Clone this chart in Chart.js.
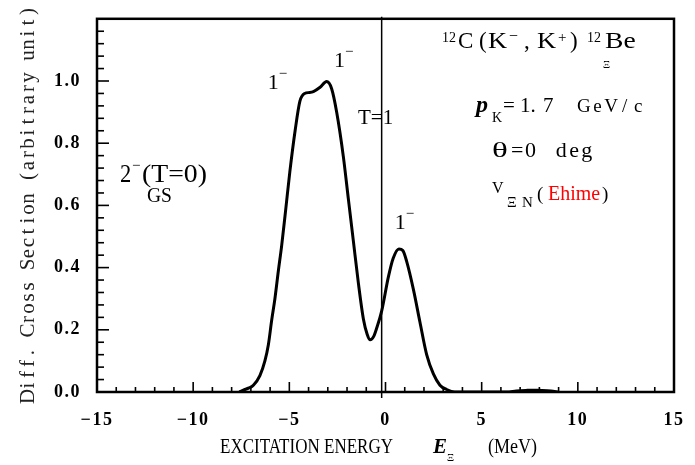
<!DOCTYPE html>
<html>
<head>
<meta charset="utf-8">
<script src="https://cdn.jsdelivr.net/npm/chart.js@4.4.1/dist/chart.umd.min.js"></script>
<style>
  html, body { margin: 0; padding: 0; background: #fff; }
  #wrap { width: 695px; height: 465px; }
</style>
</head>
<body>
<div id="wrap"><canvas id="c" width="695" height="465"></canvas></div>
<script>
// ---- data ----
const energy = [-7.6, -7.39, -7.1, -6.87, -6.53, -6.27, -6.09, -5.92, -5.75, -5.57, -5.4, -5.2, -4.97, -4.7, -4.45, -4.2, -3.95, -3.75, -3.4, -3.06, -2.8, -2.54, -2.19, -1.93, -1.67, -1.41, -1.15, -0.95, -0.8, -0.62, -0.46, -0.2, 0.15, 0.4, 0.7, 0.9, 1.1, 1.45, 1.79, 2.14, 2.49, 2.83, 3.18, 3.6, 6.3, 6.8, 7.3, 7.7, 8.1, 8.6, 9.0];
const crossSection = [0, 0.006, 0.013, 0.022, 0.053, 0.10, 0.152, 0.23, 0.30, 0.39, 0.47, 0.58, 0.71, 0.84, 0.935, 0.96, 0.963, 0.966, 0.98, 0.998, 0.975, 0.9, 0.756, 0.62, 0.485, 0.35, 0.235, 0.185, 0.168, 0.178, 0.205, 0.26, 0.37, 0.43, 0.46, 0.455, 0.42, 0.33, 0.225, 0.12, 0.058, 0.022, 0.008, 0, 0, 0.003, 0.005, 0.006, 0.005, 0.003, 0];
const xTickLabels = [-15, -10, -5, 0, 5, 10, 15];
const yTickLabels = [0.0, 0.2, 0.4, 0.6, 0.8, 1.0];
const thresholdEnergy = -0.2; // vertical marker line
const peakLabels = [
  { e: -5.6, v: 1.0, text: "1" },
  { e: -2.16, v: 1.07, text: "1" },
  { e: 1.0, v: 0.55, text: "1" }
];

const points = energy.map((e, i) => ({ x: e, y: crossSection[i] }));

function near(a, b) { return Math.abs(a - b) < 1e-6; }

function txt(ctx, s, x, y, font, color, sx) {
  ctx.save();
  ctx.font = font;
  ctx.fillStyle = color || '#000';
  ctx.textBaseline = 'alphabetic';
  ctx.textAlign = 'left';
  ctx.translate(x, y);
  ctx.scale(sx || 1, 1);
  ctx.fillText(s, 0, 0);
  ctx.restore();
}
function fit(ctx, s, x, y, font, color, width) {
  ctx.save();
  ctx.font = font;
  const w = ctx.measureText(s).width;
  ctx.restore();
  txt(ctx, s, x, y, font, color, width / w);
}
// monospace-like: each char centered in a cell of width `step`
function cells(ctx, s, x, y, font, color, step) {
  ctx.save();
  ctx.font = font;
  ctx.fillStyle = color || '#000';
  ctx.textBaseline = 'alphabetic';
  ctx.textAlign = 'center';
  for (let i = 0; i < s.length; i++) ctx.fillText(s[i], x + i * step + step / 2, y);
  ctx.restore();
}

const SERIF = '"Liberation Serif", "DejaVu Serif", serif';

const spacing = {
  id: 'spacing',
  beforeDraw(chart) { chart.ctx.letterSpacing = '1.5px'; },
  beforeDatasetsDraw(chart) { chart.ctx.letterSpacing = '0px'; }
};

const decor = {
  id: 'decor',
  afterDatasetsDraw(chart) {
    const ctx = chart.ctx;
    const a = chart.chartArea;
    const xs = chart.scales.x, ys = chart.scales.y;
    ctx.save();
    // frame
    ctx.strokeStyle = '#000';
    ctx.lineWidth = 2.5;
    ctx.strokeRect(a.left, a.top, a.right - a.left, a.bottom - a.top);
    // inward ticks
    ctx.lineWidth = 1.6;
    xs.ticks.forEach(t => {
      const p = xs.getPixelForValue(t.value);
      const major = xTickLabels.some(v => near(v, t.value));
      ctx.beginPath();
      ctx.moveTo(p, a.bottom);
      ctx.lineTo(p, a.bottom - (major ? 10 : 5));
      ctx.stroke();
    });
    ys.ticks.forEach(t => {
      const p = ys.getPixelForValue(t.value);
      const major = near(Math.round(t.value / 0.2) * 0.2, t.value);
      ctx.beginPath();
      ctx.moveTo(a.left, p);
      ctx.lineTo(a.left + (major ? 12 : 7), p);
      ctx.stroke();
    });
    // vertical threshold line
    const vx = xs.getPixelForValue(thresholdEnergy);
    ctx.lineWidth = 1.5;
    ctx.beginPath();
    ctx.moveTo(vx, a.top - 2);
    ctx.lineTo(vx, a.bottom + 6);
    ctx.stroke();
    ctx.restore();

    // peak labels 1^-
    peakLabels.forEach(l => {
      const px = xs.getPixelForValue(l.e) - 10;
      const py = ys.getPixelForValue(l.v) + 8;
      txt(ctx, l.text, px, py, '22px ' + SERIF, '#000');
      txt(ctx, '\u2212', px + 11, py - 11, '15px ' + SERIF, '#000');
    });
    // T=1
    txt(ctx, 'T=1', 358, 124, '21px ' + SERIF, '#000');
    // 2^-(T=0) GS
    txt(ctx, '2', 120, 182, '25px ' + SERIF, '#000', 0.9);
    txt(ctx, '\u2212', 132, 170, '15px ' + SERIF, '#000');
    fit(ctx, '(T=0)', 142, 182, '25px ' + SERIF, '#000', 65);
    fit(ctx, 'GS', 147, 202, '20px ' + SERIF, '#000', 25);

    // reaction title
    const big = '23px ' + SERIF, sup = '14px ' + SERIF;
    txt(ctx, '12', 442, 42, sup, '#000');
    txt(ctx, 'C', 458, 48, big, '#000');
    txt(ctx, '(', 479, 48, big, '#000');
    txt(ctx, 'K', 488, 48, big, '#000', 1.15);
    txt(ctx, '\u2212', 509, 41, '16px ' + SERIF, '#000');
    txt(ctx, ',', 524, 48, big, '#000');
    txt(ctx, 'K', 537, 48, big, '#000', 1.15);
    txt(ctx, '+', 558, 42, '15px ' + SERIF, '#000');
    txt(ctx, ')', 570, 48, big, '#000');
    txt(ctx, '12', 587, 42, sup, '#000');
    txt(ctx, 'Be', 605, 48, big, '#000', 1.2);
    txt(ctx, '\u039E', 603, 68, '11px ' + SERIF, '#000');

    // p_K = 1.7 GeV/c
    txt(ctx, 'p', 476, 112, 'italic bold 24px ' + SERIF, '#000');
    txt(ctx, 'K', 492, 122, '14px ' + SERIF, '#000');
    txt(ctx, '=', 503, 112, '21px ' + SERIF, '#000');
    txt(ctx, '1.', 520, 112, '21px ' + SERIF, '#000');
    txt(ctx, '7', 543, 112, '21px ' + SERIF, '#000');
    cells(ctx, 'GeV/c', 577, 112, '19px ' + SERIF, '#000', 13.6);

    // theta = 0 deg
    txt(ctx, '\u03B8', 492, 157, '22px ' + SERIF, '#000', 1.5);
    txt(ctx, '=', 511, 157, '22px ' + SERIF, '#000');
    txt(ctx, '0', 525, 157, '22px ' + SERIF, '#000');
    cells(ctx, 'deg', 555, 157, '22px ' + SERIF, '#000', 12.7);

    // V_XiN (Ehime)
    txt(ctx, 'V', 492, 193, '16px ' + SERIF, '#000');
    txt(ctx, '\u039E', 507, 207, '15px ' + SERIF, '#000');
    txt(ctx, 'N', 522, 207, '15px ' + SERIF, '#000');
    txt(ctx, '(', 537, 200, '19px ' + SERIF, '#000');
    fit(ctx, 'Ehime', 548, 200, '20px ' + SERIF, '#ff0000', 52);
    txt(ctx, ')', 602, 200, '19px ' + SERIF, '#000');

    // x axis title
    fit(ctx, 'EXCITATION ENERGY', 220, 453, '21px ' + SERIF, '#000', 173);
    txt(ctx, 'E', 433, 453, 'italic bold 21px ' + SERIF, '#000');
    txt(ctx, '\u039E', 447, 461, '11px ' + SERIF, '#000');
    fit(ctx, '(MeV)', 488, 453, '21px ' + SERIF, '#000', 49);

    // y axis title (monospace-like serif, rotated)
    ctx.save();
    ctx.translate(34, 204);
    ctx.rotate(-Math.PI / 2);
    const s = 'Diff. Cross Section (arbitrary unit)';
    const step = 11;
    cells(ctx, s, -s.length * step / 2, 0, '21px ' + SERIF, '#222', step);
    ctx.restore();
  }
};

new Chart(document.getElementById('c'), {
  type: 'scatter',
  data: {
    datasets: [{
      data: points,
      showLine: true,
      borderColor: '#000',
      borderWidth: 3,
      pointRadius: 0,
      fill: false,
      cubicInterpolationMode: 'monotone'
    }]
  },
  options: {
    responsive: false,
    animation: false,
    devicePixelRatio: 1,
    layout: { padding: { top: 7, right: 21, left: 0, bottom: 0 } },
    plugins: { legend: { display: false }, tooltip: { enabled: false } },
    scales: {
      x: {
        type: 'linear', min: -15, max: 15, position: 'bottom',
        grid: { display: false }, border: { display: false },
        ticks: {
          stepSize: 1, autoSkip: false, maxRotation: 0, padding: 10,
          color: '#000', font: { family: SERIF, size: 18, weight: 'bold' },
          callback: v => xTickLabels.some(t => near(t, v)) ? String(Math.round(v)).replace('-', '\u2212') : ''
        },
        afterFit: s => { s.height = 73; }
      },
      y: {
        type: 'linear', min: 0, max: 1.2,
        grid: { display: false }, border: { display: false },
        ticks: {
          stepSize: 0.04, autoSkip: false, padding: 8,
          color: '#000', font: { family: SERIF, size: 18, weight: 'bold' },
          callback: v => {
            const hit = yTickLabels.find(t => near(t, v));
            return hit !== undefined ? hit.toFixed(1) : '';
          }
        },
        afterFit: s => { s.width = 97; }
      }
    }
  },
  plugins: [spacing, decor]
});
</script>
</body>
</html>
